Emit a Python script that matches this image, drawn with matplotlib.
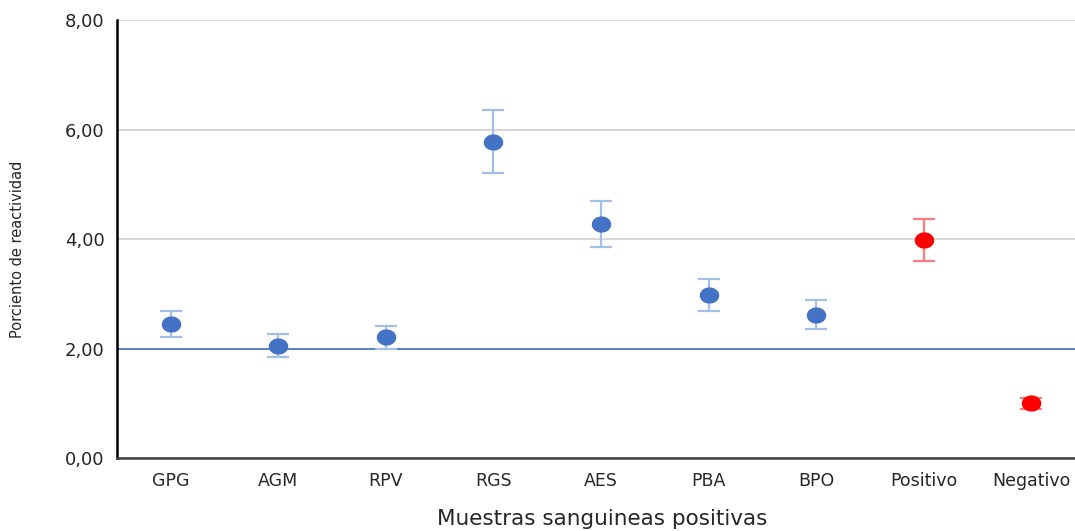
import matplotlib
matplotlib.use("Agg")
import matplotlib.pyplot as plt
import numpy as np
from matplotlib.path import Path
from matplotlib.ticker import FuncFormatter

categories = ["GPG", "AGM", "RPV", "RGS", "AES", "PBA", "BPO", "Positivo", "Negativo"]
values = [2.45, 2.05, 2.21, 5.78, 4.27, 2.98, 2.62, 3.98, 1.00]
errors = [0.24, 0.21, 0.21, 0.58, 0.42, 0.29, 0.26, 0.39, 0.10]
is_control = [False, False, False, False, False, False, False, True, True]
threshold = 2.0
yticks = [0, 2, 4, 6, 8]

plt.rcParams['font.family'] = ['DejaVu Sans']

fig = plt.figure(figsize=(10.75, 5.31), dpi=100)
ax = fig.add_axes([117/1075, 1-458/531, 1-117/1075, (458-20)/531])

# elliptical marker
t = np.linspace(0, 2*np.pi, 60)
ell = Path(np.column_stack([np.cos(t)*1.0, np.sin(t)*0.82]), closed=True)

x = np.arange(len(categories))
for xi, v, e, c in zip(x, values, errors, is_control):
    mc = '#FF0000' if c else '#4472C4'
    ec = '#FF7C80' if c else '#A3BEE8'
    ax.errorbar(xi, v, yerr=e, fmt='none', ecolor=ec, elinewidth=1.6,
                capsize=8, capthick=1.6, zorder=3)
    ax.plot(xi, v, marker=ell, markersize=13, color=mc, linestyle='none', zorder=4)

ax.axhline(threshold, color='#4472C4', linewidth=1.2, zorder=2)

ax.set_xlim(-0.5, 8.5 - 10/107.6)
ax.set_ylim(0, 8)
ax.set_yticks(yticks)
ax.yaxis.set_major_formatter(FuncFormatter(lambda v, p: f"{v:.2f}".replace('.', ',')))
ax.set_xticks(x)
ax.set_xticklabels(categories)
ax.tick_params(axis='both', length=0, colors='#262626')
ax.tick_params(axis='x', pad=10, labelsize=12.5)
ax.tick_params(axis='y', pad=9, labelsize=13)
ax.grid(axis='y', color='#D0D0D0', linewidth=1.2, zorder=0)
ax.set_axisbelow(True)
for s in ['top', 'right']:
    ax.spines[s].set_visible(False)
ax.spines['left'].set_color('#000000')
ax.spines['left'].set_linewidth(1.8)
ax.spines['bottom'].set_color('#404040')
ax.spines['bottom'].set_linewidth(1.8)

fig.text(18/1075, 1-249/531, "Porciento de reactividad", rotation=90,
         ha='center', va='center', fontsize=10.5, color='#262626')
fig.text(602/1075, 1-525/531, "Muestras sanguineas positivas",
         ha='center', va='baseline', fontsize=15.5, color='#262626')

fig.savefig("out.png", dpi=100)
